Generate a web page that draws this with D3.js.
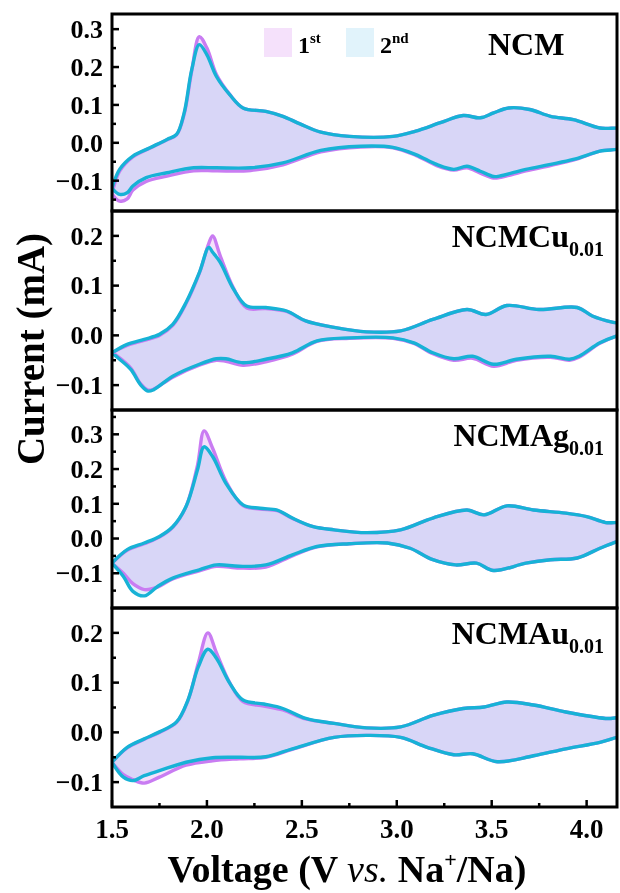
<!DOCTYPE html>
<html>
<head>
<meta charset="utf-8">
<style>
  body { margin: 0; background: #fff; }
  text { font-family: "Liberation Serif", "Times New Roman", serif; font-weight: bold; fill: #000; }
  .fill { mix-blend-mode: multiply; }
</style>
</head>
<body>
<script src="https://cdn.jsdelivr.net/npm/d3@7"></script>
<script>
// ---- data (V, mA) ----
// NCM
var ncmUpV   = [1.5, 1.54, 1.61, 1.70, 1.79, 1.84, 1.88, 1.92, 1.96, 2.00, 2.05, 2.12, 2.19, 2.31, 2.40, 2.49, 2.60, 2.75, 2.98, 3.10, 3.23, 3.35, 3.44, 3.51, 3.59, 3.70, 3.81, 3.93, 4.07, 4.20];
var ncmUp1   = [-0.135, -0.075, -0.037, -0.014, 0.008, 0.021, 0.075, 0.190, 0.280, 0.250, 0.180, 0.128, 0.092, 0.083, 0.070, 0.050, 0.028, 0.017, 0.017, 0.031, 0.053, 0.072, 0.066, 0.079, 0.092, 0.088, 0.070, 0.061, 0.039, 0.034];
var ncmUp2   = [-0.120, -0.070, -0.035, -0.013, 0.009, 0.022, 0.079, 0.193, 0.259, 0.232, 0.175, 0.127, 0.092, 0.083, 0.070, 0.050, 0.028, 0.017, 0.017, 0.031, 0.053, 0.072, 0.066, 0.079, 0.092, 0.088, 0.070, 0.061, 0.039, 0.034];
var ncmDownV = [4.20, 4.07, 3.93, 3.81, 3.68, 3.54, 3.51, 3.44, 3.37, 3.30, 3.21, 3.10, 2.98, 2.81, 2.60, 2.40, 2.23, 2.05, 1.93, 1.79, 1.68, 1.61, 1.58, 1.54, 1.5];
var ncmDown1 = [-0.010, -0.022, -0.046, -0.060, -0.074, -0.092, -0.093, -0.080, -0.066, -0.072, -0.060, -0.033, -0.013, -0.011, -0.024, -0.058, -0.073, -0.074, -0.074, -0.088, -0.102, -0.125, -0.148, -0.154, -0.135];
var ncmDown2 = [-0.010, -0.022, -0.044, -0.057, -0.070, -0.088, -0.089, -0.075, -0.062, -0.070, -0.057, -0.031, -0.012, -0.009, -0.020, -0.053, -0.066, -0.066, -0.066, -0.079, -0.092, -0.114, -0.132, -0.136, -0.120];

// NCMCu0.01
var cuUpV   = [1.5, 1.58, 1.67, 1.75, 1.82, 1.89, 1.96, 2.01, 2.03, 2.07, 2.14, 2.21, 2.31, 2.42, 2.52, 2.67, 2.84, 3.02, 3.19, 3.37, 3.47, 3.58, 3.75, 3.95, 4.03, 4.14, 4.20];
var cuUp1   = [-0.035, -0.020, -0.010, 0.000, 0.020, 0.064, 0.125, 0.185, 0.200, 0.160, 0.095, 0.055, 0.054, 0.048, 0.029, 0.016, 0.007, 0.009, 0.032, 0.052, 0.042, 0.060, 0.052, 0.056, 0.039, 0.026, 0.022];
var cuUp2   = [-0.035, -0.018, -0.008, 0.002, 0.022, 0.066, 0.126, 0.177, 0.167, 0.147, 0.093, 0.059, 0.056, 0.049, 0.029, 0.016, 0.007, 0.009, 0.032, 0.052, 0.042, 0.060, 0.052, 0.056, 0.039, 0.026, 0.022];
var cuDownV = [4.20, 4.16, 4.07, 3.96, 3.91, 3.81, 3.63, 3.51, 3.40, 3.30, 3.19, 3.09, 2.98, 2.75, 2.58, 2.45, 2.31, 2.19, 2.10, 2.05, 1.96, 1.82, 1.72, 1.69, 1.65, 1.60, 1.54, 1.5];
var cuDown1 = [0.003, -0.001, -0.016, -0.044, -0.050, -0.044, -0.050, -0.062, -0.046, -0.050, -0.037, -0.016, -0.006, -0.006, -0.012, -0.038, -0.053, -0.060, -0.052, -0.050, -0.060, -0.084, -0.108, -0.110, -0.097, -0.066, -0.045, -0.035];
var cuDown2 = [0.003, -0.001, -0.015, -0.042, -0.048, -0.042, -0.048, -0.058, -0.042, -0.047, -0.035, -0.015, -0.005, -0.005, -0.011, -0.035, -0.048, -0.055, -0.047, -0.047, -0.058, -0.082, -0.109, -0.112, -0.099, -0.069, -0.048, -0.035];

// NCMAg0.01
var agUpV   = [1.5, 1.58, 1.67, 1.75, 1.82, 1.89, 1.95, 1.985, 2.03, 2.10, 2.19, 2.28, 2.37, 2.45, 2.56, 2.67, 2.84, 3.02, 3.19, 3.37, 3.46, 3.58, 3.72, 3.89, 4.00, 4.10, 4.20];
var agUp1   = [-0.071, -0.034, -0.015, 0.004, 0.032, 0.092, 0.210, 0.310, 0.260, 0.165, 0.095, 0.085, 0.080, 0.058, 0.034, 0.025, 0.017, 0.025, 0.059, 0.082, 0.068, 0.094, 0.082, 0.073, 0.063, 0.046, 0.042];
var agUp2   = [-0.071, -0.032, -0.013, 0.006, 0.034, 0.092, 0.197, 0.264, 0.236, 0.159, 0.097, 0.087, 0.082, 0.059, 0.034, 0.025, 0.017, 0.025, 0.059, 0.082, 0.068, 0.094, 0.082, 0.073, 0.063, 0.046, 0.042];
var agDownV = [4.20, 4.16, 4.07, 3.95, 3.81, 3.68, 3.51, 3.42, 3.31, 3.19, 3.07, 2.95, 2.75, 2.58, 2.45, 2.31, 2.17, 2.05, 1.96, 1.82, 1.74, 1.67, 1.61, 1.56, 1.5];
var agDown1 = [-0.004, -0.009, -0.028, -0.056, -0.061, -0.071, -0.092, -0.071, -0.076, -0.061, -0.028, -0.013, -0.015, -0.024, -0.050, -0.082, -0.085, -0.080, -0.093, -0.116, -0.140, -0.147, -0.130, -0.100, -0.071];
var agDown2 = [-0.004, -0.009, -0.028, -0.056, -0.061, -0.071, -0.092, -0.071, -0.076, -0.061, -0.028, -0.013, -0.015, -0.023, -0.047, -0.076, -0.080, -0.076, -0.090, -0.114, -0.138, -0.165, -0.152, -0.109, -0.071];

// NCMAu0.01
var auUpV   = [1.5, 1.58, 1.67, 1.75, 1.84, 1.90, 1.955, 2.005, 2.05, 2.12, 2.19, 2.30, 2.40, 2.52, 2.67, 2.84, 3.02, 3.19, 3.35, 3.46, 3.58, 3.72, 3.89, 4.10, 4.20];
var auUp1   = [-0.060, -0.031, -0.014, 0.000, 0.020, 0.064, 0.140, 0.200, 0.160, 0.100, 0.062, 0.053, 0.045, 0.027, 0.018, 0.009, 0.011, 0.034, 0.048, 0.051, 0.061, 0.055, 0.041, 0.028, 0.027];
var auUp2   = [-0.060, -0.030, -0.013, 0.001, 0.021, 0.065, 0.132, 0.167, 0.149, 0.099, 0.065, 0.057, 0.048, 0.028, 0.018, 0.009, 0.011, 0.034, 0.048, 0.051, 0.061, 0.055, 0.041, 0.028, 0.027];
var auDownV = [4.20, 4.16, 4.07, 3.89, 3.72, 3.53, 3.40, 3.30, 3.16, 3.02, 2.84, 2.67, 2.45, 2.31, 2.17, 2.03, 1.89, 1.75, 1.67, 1.61, 1.56, 1.5];
var auDown1 = [-0.007, -0.010, -0.020, -0.033, -0.047, -0.059, -0.043, -0.045, -0.030, -0.010, -0.006, -0.010, -0.034, -0.050, -0.053, -0.057, -0.066, -0.090, -0.102, -0.095, -0.085, -0.060];
var auDown2 = [-0.007, -0.010, -0.020, -0.033, -0.047, -0.059, -0.043, -0.045, -0.030, -0.010, -0.006, -0.010, -0.033, -0.049, -0.050, -0.051, -0.060, -0.077, -0.087, -0.097, -0.090, -0.060];

var panelNames = ["NCM", "NCMCu", "NCMAg", "NCMAu"];
var panelSubs  = ["", "0.01", "0.01", "0.01"];
var yDomains   = [[-0.18, 0.34], [-0.15, 0.25], [-0.2, 0.37], [-0.15, 0.25]];
var xTicks     = [1.5, 2.0, 2.5, 3.0, 3.5, 4.0];
var yTicks     = [-0.1, 0.0, 0.1, 0.2, 0.3];
var legendLabels = [["1", "st"], ["2", "nd"]];

var col1 = "#c97cf2", col2 = "#17b2d6";
var fill1 = "#f5e1fb", fill2 = "#e1f3fb";

// ---- layout ----
var width = 620, height = 893;
var left = 112, right = 617;
var edges = [14, 211, 410, 608, 807];

var svg = d3.select("body").append("svg")
    .attr("width", width)
    .attr("height", height);

var x = d3.scaleLinear().domain([1.5, 4.16]).range([left, right]);

var loops = [
  [ncmUpV, ncmUp1, ncmUp2, ncmDownV, ncmDown1, ncmDown2],
  [cuUpV, cuUp1, cuUp2, cuDownV, cuDown1, cuDown2],
  [agUpV, agUp1, agUp2, agDownV, agDown1, agDown2],
  [auUpV, auUp1, auUp2, auDownV, auDown1, auDown2]
];

function loopPts(upV, up, downV, down) {
  var pts = upV.map((v, i) => [v, up[i]]);
  return pts.concat(downV.map((v, i) => [v, down[i]]));
}

loops.forEach(function(L, p) {
  var top = edges[p], bot = edges[p + 1];
  var y = d3.scaleLinear().domain(yDomains[p]).range([bot, top]);
  var line = d3.line().x(d => x(d[0])).y(d => y(d[1])).curve(d3.curveCatmullRom.alpha(0.5));

  var g = svg.append("g");
  var clipId = "clip" + p;
  g.append("clipPath").attr("id", clipId)
    .append("rect").attr("x", left).attr("y", top).attr("width", right - left).attr("height", bot - top);

  var c1 = loopPts(L[0], L[1], L[3], L[4]);
  var c2 = loopPts(L[0], L[2], L[3], L[5]);

  var plot = g.append("g").attr("clip-path", "url(#" + clipId + ")");
  plot.append("path").attr("class", "fill").attr("d", line(c1) + "Z").attr("fill", fill1);
  plot.append("path").attr("class", "fill").attr("d", line(c2) + "Z").attr("fill", fill2);
  plot.append("path").attr("d", line(c1)).attr("fill", "none").attr("stroke", col1).attr("stroke-width", 3.4).attr("stroke-linejoin", "round");
  plot.append("path").attr("d", line(c2)).attr("fill", "none").attr("stroke", col2).attr("stroke-width", 3.4).attr("stroke-linejoin", "round");

  // y ticks (inward)
  var majors = yTicks.filter(t => t >= yDomains[p][0] && t <= yDomains[p][1]);
  var minors = d3.range(-0.15, 0.4, 0.1).map(t => +t.toFixed(2)).filter(t => t > yDomains[p][0] && t < yDomains[p][1]);
  g.selectAll(".ymaj").data(majors).join("line")
    .attr("x1", left).attr("x2", left + 7).attr("y1", d => y(d)).attr("y2", d => y(d))
    .attr("stroke", "#000").attr("stroke-width", 2.5);
  g.selectAll(".ymin").data(minors).join("line")
    .attr("x1", left).attr("x2", left + 4).attr("y1", d => y(d)).attr("y2", d => y(d))
    .attr("stroke", "#000").attr("stroke-width", 2.5);
  g.selectAll(".ylab").data(majors).join("text")
    .attr("x", left - 9).attr("y", d => y(d)).attr("dy", "0.34em")
    .attr("text-anchor", "end").attr("font-size", 26)
    .text(d => d3.format(".1f")(d));

  // frame
  g.append("rect").attr("x", left).attr("y", top).attr("width", right - left).attr("height", bot - top)
    .attr("fill", "none").attr("stroke", "#000").attr("stroke-width", 3);

  // panel label
  var lab = g.append("text").attr("font-size", 32);
  if (panelSubs[p]) {
    lab.attr("x", 604).attr("y", top + 36).attr("text-anchor", "end");
    lab.append("tspan").text(panelNames[p]);
    lab.append("tspan").attr("font-size", 20).attr("dy", 9).text(panelSubs[p]);
  } else {
    lab.attr("x", 488).attr("y", top + 41).text(panelNames[p]);
  }
});

// bottom x axis ticks
var xb = edges[4];
var xMinor = [1.75, 2.25, 2.75, 3.25, 3.75];
svg.selectAll(".xmaj").data(xTicks).join("line")
  .attr("x1", d => x(d)).attr("x2", d => x(d)).attr("y1", xb).attr("y2", xb - 7)
  .attr("stroke", "#000").attr("stroke-width", 2.5);
svg.selectAll(".xmin").data(xMinor).join("line")
  .attr("x1", d => x(d)).attr("x2", d => x(d)).attr("y1", xb).attr("y2", xb - 4)
  .attr("stroke", "#000").attr("stroke-width", 2.5);
svg.selectAll(".xlab").data(xTicks).join("text")
  .attr("x", d => x(d)).attr("y", 838)
  .attr("text-anchor", "middle").attr("font-size", 27)
  .text(d => d3.format(".1f")(d));

// legend
var lg = svg.append("g");
[fill1, fill2].forEach(function(c, i) {
  var lx = [264, 346][i];
  lg.append("rect").attr("x", lx).attr("y", 28).attr("width", 28).attr("height", 29).attr("fill", c);
  var t = lg.append("text").attr("x", lx + 34).attr("y", 53).attr("font-size", 24);
  t.append("tspan").text(legendLabels[i][0]);
  t.append("tspan").attr("font-size", 15).attr("dy", -10).text(legendLabels[i][1]);
});

// axis titles
svg.append("text")
  .attr("transform", "translate(44,349) rotate(-90)")
  .attr("text-anchor", "middle").attr("font-size", 39)
  .text("Current (mA)");

var xt = svg.append("text").attr("x", 347).attr("y", 882).attr("text-anchor", "middle").attr("font-size", 38);
xt.append("tspan").text("Voltage (V ");
xt.append("tspan").attr("font-style", "italic").attr("font-weight", "normal").text("vs.");
xt.append("tspan").text(" Na");
xt.append("tspan").attr("font-size", 22).attr("dy", -15).text("+");
xt.append("tspan").attr("dy", 15).text("/Na)");
</script>
</body>
</html>
